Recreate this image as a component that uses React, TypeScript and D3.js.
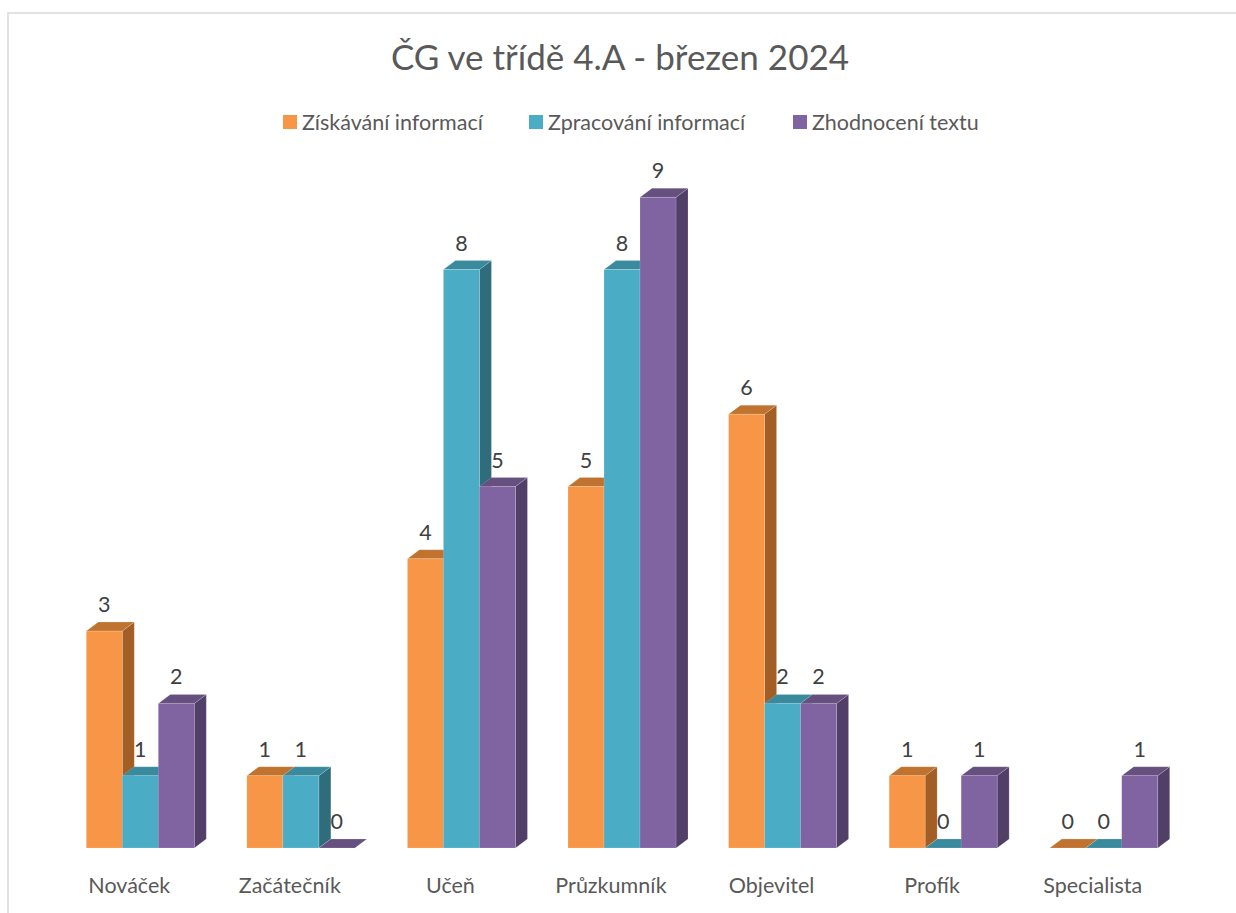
import * as d3 from "d3";

// categories and series
const categories = ["Nováček", "Začátečník", "Učeň", "Průzkumník", "Objevitel", "Profík", "Specialista"];
const seriesNames = ["Získávání informací", "Zpracování informací", "Zhodnocení textu"];
const ziskavani = [3, 1, 4, 5, 6, 1, 0];
const zpracovani = [1, 1, 8, 8, 2, 0, 0];
const zhodnoceni = [2, 0, 5, 9, 2, 1, 1];
const seriesValues = [ziskavani, zpracovani, zhodnoceni];

// front / top / side colours per series
const colors = [
  { front: "#F79646", top: "#C0732F", side: "#A35E26" },
  { front: "#4BACC6", top: "#3A8A9E", side: "#2F6C7C" },
  { front: "#8064A2", top: "#65507F", side: "#513F68" },
];

const FONT = "Lato, 'Open Sans', sans-serif";

export default function App() {
  const width = 1236;
  const height = 913;
  const baseY = 848;
  const depthX = 12;
  const depthY = 9;
  const barW = 36;

  const x = d3.scaleBand<string>().domain(categories).range([60, 1184]);
  const inner = d3
    .scaleBand<string>()
    .domain(seriesNames)
    .range([0, barW * seriesNames.length]);
  const y = d3.scaleLinear().domain([0, 10]).range([baseY, baseY - 723]);

  const groupOffset = (x.bandwidth() - barW * seriesNames.length) / 2;

  const legendX = [283, 529, 793];

  return (
    <svg
      width={width}
      height={height}
      style={{ position: "absolute", left: 0, top: 0, background: "#fff" }}
    >
      <rect x={8} y={13} width={1260} height={920} fill="#fff" stroke="#d9d9d9" strokeWidth={1.5} />

      <text
        x={620}
        y={70}
        textAnchor="middle"
        fontFamily={FONT}
        fontSize={35}
        fill="#595959"
      >
        ČG ve třídě 4.A - březen 2024
      </text>

      {/* legend */}
      {seriesNames.map((name, i) => (
        <g key={name} transform={`translate(${legendX[i]},122)`}>
          <rect x={0} y={-7} width={14} height={14} fill={colors[i].front} />
          <text x={19} y={7.5} fontFamily={FONT} fontSize={21.5} fill="#595959">
            {name}
          </text>
        </g>
      ))}

      {/* bars, drawn series by series inside each category */}
      {categories.map((cat, ci) => (
        <g key={cat}>
          {seriesNames.map((s, si) => {
            const v = seriesValues[si][ci];
            const x0 = (x(cat) ?? 0) + groupOffset + (inner(s) ?? 0);
            const x1 = x0 + barW;
            const top = y(v);
            const c = colors[si];
            const topFace = `${x0},${top} ${x0 + depthX},${top - depthY} ${x1 + depthX},${top - depthY} ${x1},${top}`;
            const sideFace = `${x1},${top} ${x1 + depthX},${top - depthY} ${x1 + depthX},${baseY - depthY} ${x1},${baseY}`;
            return (
              <g key={s}>
                {v > 0 && (
                  <polygon points={sideFace} fill={c.side} stroke="#ffffff" strokeOpacity={0.25} strokeWidth={0.6} />
                )}
                <polygon points={topFace} fill={c.top} stroke="#ffffff" strokeOpacity={0.25} strokeWidth={0.6} />
                {v > 0 && (
                  <rect
                    x={x0}
                    y={top}
                    width={barW}
                    height={baseY - top}
                    fill={c.front}
                    stroke="#ffffff"
                    strokeOpacity={0.25}
                    strokeWidth={0.6}
                  />
                )}
              </g>
            );
          })}
          {seriesNames.map((s, si) => {
            const v = seriesValues[si][ci];
            const x0 = (x(cat) ?? 0) + groupOffset + (inner(s) ?? 0);
            return (
              <text
                key={s + "-lbl"}
                x={x0 + barW / 2}
                y={y(v) - 19}
                textAnchor="middle"
                fontFamily={FONT}
                fontSize={21.5}
                fill="#404040"
              >
                {v}
              </text>
            );
          })}
          <text
            x={(x(cat) ?? 0) + x.bandwidth() / 2 - 11}
            y={893}
            textAnchor="middle"
            fontFamily={FONT}
            fontSize={21.5}
            fill="#595959"
          >
            {cat}
          </text>
        </g>
      ))}
    </svg>
  );
}
